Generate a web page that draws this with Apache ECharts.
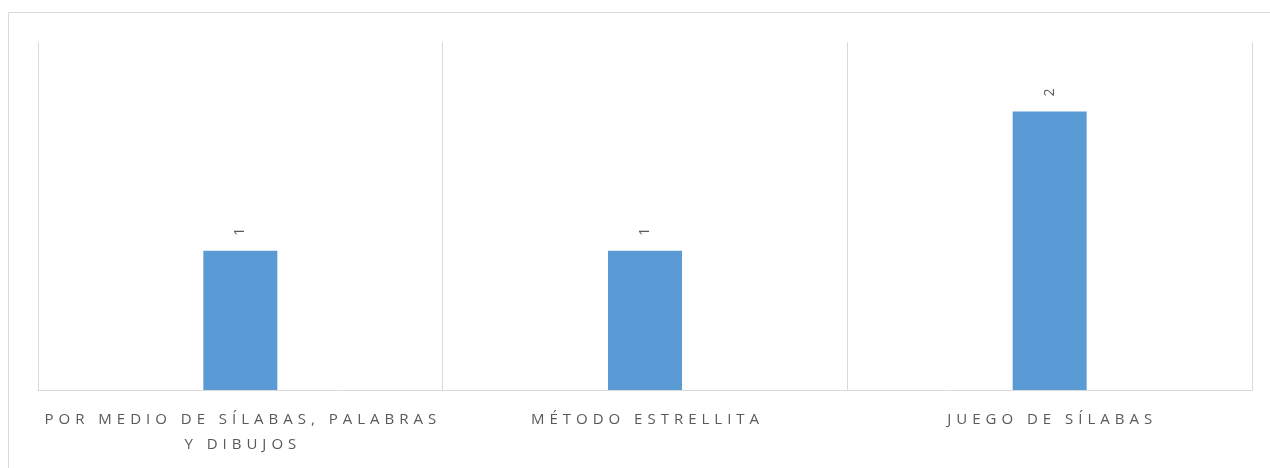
<!DOCTYPE html>
<html>
<head>
<meta charset="utf-8">
<script src="https://cdn.jsdelivr.net/npm/echarts@6/dist/echarts.min.js"></script>
<style>
html,body{margin:0;padding:0;background:#fff;}
#chart{width:1270px;height:468px;}
</style>
</head>
<body>
<div id="chart"></div>
<script>
const categories = ['POR MEDIO DE SÍLABAS, PALABRAS\nY DIBUJOS', 'MÉTODO ESTRELLITA', 'JUEGO DE SÍLABAS'];
const values = [1, 1, 2];

const spaced = s => s.split('\n').map(line => line.split('').join('\u2004')).join('\n');

const chart = echarts.init(document.getElementById('chart'), null, {renderer: 'canvas'});
chart.setOption({
  animation: false,
  backgroundColor: '#ffffff',
  graphic: [{
    type: 'rect',
    shape: {x: 8.5, y: 12.5, width: 1400, height: 600},
    style: {fill: 'none', stroke: '#d9d9d9', lineWidth: 1},
    silent: true
  }],
  grid: {left: 38, right: 18, top: 42, bottom: 78, containLabel: false},
  xAxis: {
    type: 'category',
    data: categories,
    boundaryGap: true,
    axisLine: {show: true, lineStyle: {color: '#d9d9d9', width: 1}},
    axisTick: {show: false},
    splitLine: {show: true, lineStyle: {color: '#d9d9d9', width: 1}},
    axisLabel: {
      color: '#595959',
      fontFamily: 'Open Sans',
      fontSize: 15,
      lineHeight: 25,
      margin: 17,
      interval: 0,
      formatter: v => spaced(v)
    }
  },
  yAxis: {
    type: 'value',
    min: 0,
    max: 2.5,
    show: false,
    splitLine: {show: false}
  },
  series: [{
    type: 'bar',
    data: values,
    barWidth: 74,
    itemStyle: {color: '#5b9bd5'},
    label: {
      show: true,
      position: 'top',
      rotate: 90,
      align: 'left',
      verticalAlign: 'middle',
      distance: 15,
      color: '#595959',
      fontFamily: 'Open Sans',
      fontSize: 14
    }
  }]
});
</script>
</body>
</html>
